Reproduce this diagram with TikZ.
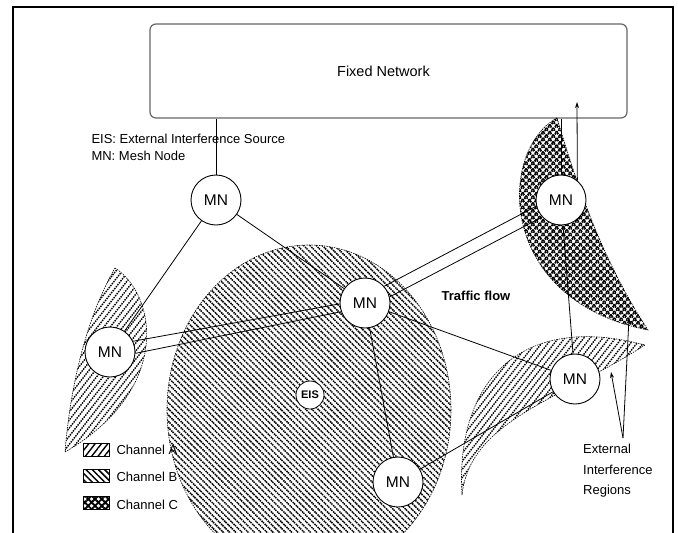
\documentclass[tikz,border=0pt]{standalone}
\usepackage{fontspec}
\setmainfont{Liberation Sans}
\usetikzlibrary{patterns.meta,arrows.meta}
\begin{document}
\begin{tikzpicture}[x=1pt,y=-1pt,
  mn/.style={circle,draw,fill=white,line width=0.9pt,minimum size=50pt,inner sep=0pt,font=\fontsize{15.5}{17}\selectfont},
  link/.style={line width=0.8pt},
  tip/.style={-{Stealth[length=6pt,width=4pt]}},
  chA/.style={pattern={Lines[angle=52,distance=5pt,line width=1.4pt]}},
  chB/.style={pattern={Lines[angle=-45,distance=4.4pt,line width=1.5pt]}},
  chC/.style={pattern={Hatch[angle=45,distance=4.8pt,line width=1.9pt]}},
  rim/.style={draw,line width=0.6pt,dash pattern=on 1.5pt off 1pt},
  lbl/.style={font=\fontsize{13}{15}\selectfont},
  key/.style={draw,line width=0.8pt,minimum width=26pt,minimum height=13pt,inner sep=0pt},
]
\useasboundingbox (0,0) rectangle (678,533);
% frame
\draw[line width=1.3pt] (13,533) -- (13,7) -- (673,7) -- (673,533);
% fixed network
\node[draw=black!60,line width=1.2pt,rounded corners=6pt,minimum width=477pt,minimum height=94pt,inner sep=0pt,font=\fontsize{14.5}{16}\selectfont] (fn) at (388.5,71) {\hspace*{-10pt}Fixed Network};
% interference regions
\path[chB,rim] (309,410) ellipse [x radius=142pt, y radius=165pt];
\path[chA,rim] (115,268) .. controls (157,295) and (172,390) .. (65,452) .. controls (70,390) and (85,320) .. (115,268) -- cycle;
\path[chA,rim] (462,495) .. controls (455,380) and (522,312) .. (645,345) .. controls (560,400) and (470,420) .. (462,495) -- cycle;
\path[chC,rim] (557,118) .. controls (498,150) and (495,300) .. (648,330) .. controls (602,260) and (577,185) .. (557,118) -- cycle;
% nodes
\node[mn] (mn1) at (216,200) {MN};
\node[mn] (mn2) at (110,352) {MN};
\node[mn] (mnc) at (365,303) {MN};
\node[mn] (mntr) at (561,200) {MN};
\node[mn] (mnr) at (575,379) {MN};
\node[mn] (mnb) at (398,482) {MN};
\node[circle,draw,fill=white,line width=0.8pt,minimum size=28pt,inner sep=0pt,font=\fontsize{11}{12}\selectfont\bfseries] (eis) at (310,395) {EIS};
% links
\draw[link] (mn1) -- (mn2);
\draw[link] (mn1) -- (mnc);
\draw[link] (mnc) -- (mnb);
\draw[link] (mnc) -- (mnr);
\draw[link] (mntr) -- (mnr);
\draw[link] (mnb) -- (mnr);
\draw[link] (mn1.north) -- (mn1.north |- fn.south);
\draw[link] (mntr.north) -- (mntr.north |- fn.south);
\coordinate (up) at (577,102);
\draw[link,tip] (mntr.50) -- (up);
% traffic flow band
\draw[link] (mn2.25) -- (mnc.182);
\draw[link] (mn2.-3) -- (mnc.200);
\draw[link] (mnc.41) -- (mntr.194);
\draw[link] (mnc.14) -- (mntr.222);
% texts
\node[lbl,anchor=west] (lg1) at (88,139) {EIS: External Interference Source};
\node[lbl,anchor=west] (lg2) at (88,156) {MN: Mesh Node};
\node[lbl,font=\fontsize{13}{15}\selectfont\bfseries] (tf) at (476,296) {Traffic flow};
% legend
\node[key,chA] (ka) at (96,449.5) {};
\node[key,chB] (kb) at (96,476) {};
\node[key,chC] (kc) at (96,503) {};
\node[lbl,anchor=west] (ta) at (113,450) {Channel A};
\node[lbl,anchor=west] (tb) at (113,477) {Channel B};
\node[lbl,anchor=west] (tc) at (113,505) {Channel C};
% external regions label
\node[align=left,anchor=north west,inner sep=0pt,font=\fontsize{13}{20.5}\selectfont] (ext) at (583,444) {External\\Interference\\Regions};
\coordinate (fork) at (623,438);
\coordinate (tipA) at (611,372);
\coordinate (tipC) at (629,318);
\draw[link,tip] (fork) -- (tipA);
\draw[link,tip] (fork) -- (tipC);
\end{tikzpicture}
\end{document}
